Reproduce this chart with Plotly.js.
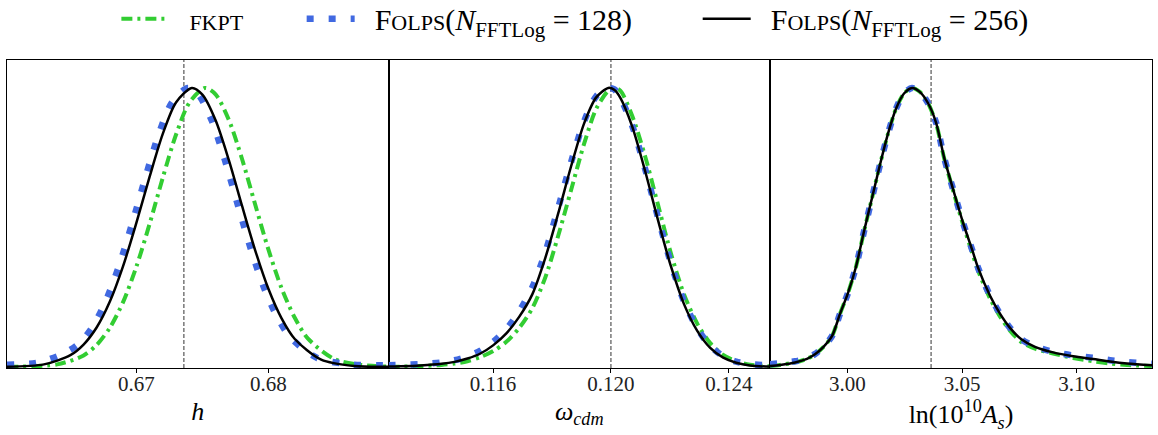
<!DOCTYPE html>
<html>
<head>
<meta charset="utf-8">
<script src="https://cdn.plot.ly/plotly-3.0.1.min.js"></script>
<style>html,body{margin:0;padding:0;background:#fff;}#chart{width:1158px;height:435px;}</style>
</head>
<body>
<div id="chart"></div>
<script>
// ---------- data ----------
const seriesNames = ['FKPT', 'Folps128', 'Folps256'];
const fiducial = [0.6736, 0.1200, 3.0365];
const axisRanges = [[0.6602, 0.6891], [0.11245, 0.12540], [2.9663, 3.1328]];
const tickVals = [[0.67, 0.68], [0.116, 0.120, 0.124], [3.00, 3.05, 3.10]];
const tickText = [['0.67', '0.68'], ['0.116', '0.120', '0.124'], ['3.00', '3.05', '3.10']];
const axisTitles = ['<i>h</i>', '<i>ω</i><sub><i>cdm</i></sub>', 'ln(10<sup>10</sup><i>A</i><sub><i>s</i></sub>)'];

// Panel 1 : h
const h_fkpt_x = [0.6602, 0.6640, 0.6660, 0.6670, 0.6680, 0.6690, 0.6700, 0.6710, 0.6720, 0.6730, 0.6740, 0.6752, 0.6760, 0.6770, 0.6780, 0.6790, 0.6800, 0.6810, 0.6820, 0.6830, 0.6850, 0.6870, 0.6891];
const h_fkpt_y = [0.0002, 0.009, 0.041, 0.079, 0.141, 0.233, 0.359, 0.512, 0.678, 0.832, 0.946, 1.0, 0.977, 0.886, 0.746, 0.582, 0.421, 0.282, 0.176, 0.101, 0.028, 0.007, 0.001];
const h_f128_x = [0.6602, 0.6625, 0.6645, 0.6657, 0.6667, 0.6677, 0.6687, 0.6697, 0.6707, 0.6717, 0.6727, 0.6739, 0.6747, 0.6757, 0.6767, 0.6777, 0.6787, 0.6797, 0.6807, 0.6817, 0.6837, 0.6862, 0.6891];
const h_f128_y = [0.008, 0.015, 0.048, 0.085, 0.145, 0.238, 0.364, 0.517, 0.681, 0.835, 0.948, 1.0, 0.976, 0.884, 0.742, 0.578, 0.418, 0.280, 0.176, 0.104, 0.032, 0.009, 0.006];
const h_f256_x = [0.6602, 0.6630, 0.6650, 0.6660, 0.6670, 0.6680, 0.6690, 0.6700, 0.6710, 0.6720, 0.6730, 0.6742, 0.6750, 0.6760, 0.6770, 0.6780, 0.6790, 0.6800, 0.6810, 0.6820, 0.6840, 0.6865, 0.6891];
const h_f256_y = [0.0005, 0.009, 0.042, 0.080, 0.142, 0.235, 0.362, 0.516, 0.681, 0.835, 0.948, 1.0, 0.976, 0.884, 0.742, 0.578, 0.418, 0.280, 0.174, 0.100, 0.026, 0.003, 0.0003];

// Panel 2 : omega_cdm
const w_x = [0.11245, 0.11286, 0.11354, 0.11425, 0.11469, 0.11513, 0.11557, 0.11601, 0.11645, 0.11689, 0.11733, 0.11777, 0.11821, 0.11865, 0.11909, 0.11950, 0.11991, 0.12011, 0.12032, 0.12072, 0.12116, 0.12160, 0.12204, 0.12248, 0.12293, 0.12337, 0.12381, 0.12425, 0.12472, 0.12540];
const w_fkpt_y = [0.0005, 0.001, 0.003, 0.007, 0.012, 0.020, 0.035, 0.057, 0.090, 0.140, 0.210, 0.320, 0.470, 0.635, 0.800, 0.925, 0.990, 1.0, 0.990, 0.900, 0.755, 0.580, 0.405, 0.260, 0.155, 0.085, 0.043, 0.020, 0.008, 0.002];
const w_f128_y = [0.006, 0.007, 0.010, 0.016, 0.024, 0.037, 0.058, 0.090, 0.135, 0.200, 0.285, 0.410, 0.570, 0.735, 0.880, 0.970, 1.0, 0.995, 0.965, 0.865, 0.710, 0.535, 0.370, 0.235, 0.138, 0.075, 0.038, 0.019, 0.010, 0.006];
const w_f256_y = [0.001, 0.002, 0.005, 0.011, 0.018, 0.030, 0.048, 0.078, 0.120, 0.180, 0.260, 0.390, 0.550, 0.720, 0.873, 0.966, 1.0, 0.993, 0.964, 0.862, 0.702, 0.525, 0.359, 0.225, 0.129, 0.068, 0.033, 0.015, 0.005, 0.001];

// Panel 3 : ln(10^10 A_s)
const a_x = [2.9663, 2.9707, 2.9772, 2.9824, 2.9859, 2.9894, 2.9933, 2.9968, 3.0003, 3.0038, 3.0073, 3.0108, 3.0143, 3.0177, 3.0212, 3.0247, 3.0282, 3.0317, 3.0352, 3.0387, 3.0422, 3.0474, 3.0509, 3.0544, 3.0570, 3.0622, 3.0666, 3.0709, 3.0757, 3.0818, 3.0897, 3.0984, 3.1071, 3.1145, 3.1219, 3.1328];
const a_fkpt_y = [0.003, 0.007, 0.016, 0.029, 0.045, 0.070, 0.110, 0.190, 0.265, 0.360, 0.487, 0.607, 0.727, 0.835, 0.925, 0.980, 1.0, 0.985, 0.945, 0.872, 0.748, 0.595, 0.498, 0.410, 0.345, 0.245, 0.180, 0.130, 0.090, 0.065, 0.048, 0.032, 0.020, 0.012, 0.007, 0.003];
const a_f128_y = [0.009, 0.013, 0.020, 0.031, 0.046, 0.071, 0.110, 0.190, 0.265, 0.360, 0.487, 0.607, 0.727, 0.835, 0.925, 0.980, 1.0, 0.985, 0.945, 0.875, 0.750, 0.600, 0.505, 0.420, 0.355, 0.255, 0.190, 0.140, 0.100, 0.073, 0.054, 0.041, 0.033, 0.024, 0.017, 0.011];
const a_f256_y = [0.003, 0.007, 0.016, 0.029, 0.045, 0.070, 0.110, 0.190, 0.265, 0.360, 0.487, 0.607, 0.727, 0.835, 0.925, 0.980, 1.0, 0.985, 0.945, 0.875, 0.750, 0.600, 0.505, 0.420, 0.355, 0.255, 0.190, 0.140, 0.100, 0.072, 0.052, 0.038, 0.028, 0.019, 0.012, 0.006];

// ---------- styling ----------
const FONT = 'Liberation Serif, DejaVu Serif, serif';
const GAP = '<span style="font-size:30px">\u00A0\u00A0</span>';
const legendLabels = [
  GAP + '<span style="font-size:22px">FKPT</span>',
  GAP + 'F<span style="font-size:22px">OLPS</span>(<i>N</i><sub>FFTLog</sub> = 128)',
  GAP + 'F<span style="font-size:22px">OLPS</span>(<i>N</i><sub>FFTLog</sub> = 256)'
];
const legendIds = ['legend', 'legend2', 'legend3'];
const legendX = [0.1005, 0.2605, 0.6025];
const lineStyles = [
  {color: '#32CD32', width: 4, dash: '11px,5px,3px,5px'},
  {color: '#4169E1', width: 6.5, dash: '7px,15px'},
  {color: '#000000', width: 2.5, dash: 'solid'}
];

const panels = [
  {x: [h_fkpt_x, h_f128_x, h_f256_x], y: [h_fkpt_y, h_f128_y, h_f256_y]},
  {x: [w_x, w_x, w_x], y: [w_fkpt_y, w_f128_y, w_f256_y]},
  {x: [a_x, a_x, a_x], y: [a_fkpt_y, a_f128_y, a_f256_y]}
];

const traces = [];
panels.forEach((p, i) => {
  const sfx = i === 0 ? '' : String(i + 1);
  for (let s = 0; s < 3; s++) {
    traces.push({
      type: 'scatter', mode: 'lines',
      x: p.x[s], y: p.y[s],
      xaxis: 'x' + sfx, yaxis: 'y' + sfx,
      name: legendLabels[s],
      legend: legendIds[s],
      legendgroup: seriesNames[s],
      showlegend: i === 0,
      line: Object.assign({shape: 'spline', smoothing: 0.8}, lineStyles[s]),
      hoverinfo: 'skip'
    });
  }
});

const domains = [[0, 0.3332], [0.3332, 0.6664], [0.6664, 1]];
const layout = {
  width: 1158, height: 435,
  margin: {l: 7, r: 6, t: 60, b: 67},
  paper_bgcolor: '#ffffff', plot_bgcolor: '#ffffff',
  font: {family: FONT, color: '#000'},
  showlegend: true,
  shapes: []
};
legendIds.forEach((id, k) => {
  layout[id] = {
    orientation: 'h', xref: 'container', yref: 'container',
    x: legendX[k], xanchor: 'left', y: 0.957, yanchor: 'middle',
    font: {family: FONT, size: 30, color: '#000'},
    itemwidth: 48,
    bgcolor: 'rgba(0,0,0,0)', borderwidth: 0
  };
});

for (let i = 0; i < 3; i++) {
  const sfx = i === 0 ? '' : String(i + 1);
  layout['xaxis' + sfx] = {
    domain: domains[i], anchor: 'y' + sfx, range: axisRanges[i],
    tickvals: tickVals[i], ticktext: tickText[i],
    ticks: 'outside', ticklen: 4, tickwidth: 1, tickcolor: '#000',
    ticklabelstandoff: -7,
    showline: true, mirror: true, linecolor: '#000', linewidth: 1,
    showgrid: false, zeroline: false,
    tickfont: {family: FONT, size: 21, color: '#222'},
    title: {text: axisTitles[i], font: {family: FONT, size: 26, color: '#000'}, standoff: 6}
  };
  layout['yaxis' + sfx] = {
    domain: [0, 1], anchor: 'x' + sfx, range: [-0.004, 1.1],
    showticklabels: false, ticks: '',
    showline: true, mirror: true, linecolor: '#000', linewidth: 1,
    showgrid: false, zeroline: false
  };
  layout.shapes.push({
    type: 'line', xref: 'x' + sfx, yref: 'y' + sfx + ' domain',
    x0: fiducial[i], x1: fiducial[i], y0: 0, y1: 1,
    line: {color: '#333', width: 1, dash: '4px,2px'}, layer: 'below'
  });
}

Plotly.newPlot('chart', traces, layout, {displayModeBar: false, staticPlot: true});
</script>
</body>
</html>
